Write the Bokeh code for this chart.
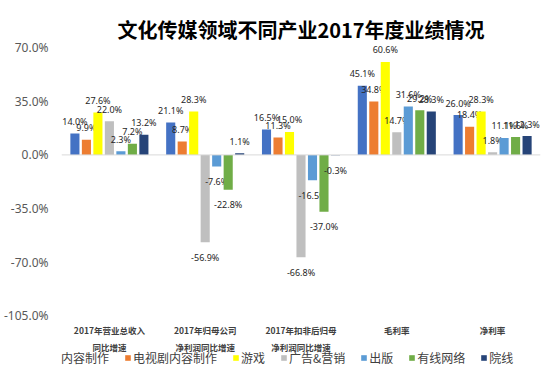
from bokeh.plotting import figure
from bokeh.models import (ColumnDataSource, FixedTicker, Span, Legend,
                          LegendItem, PrintfTickFormatter, Range1d)
from bokeh.transform import dodge
from bokeh.core.properties import value
from bokeh.embed import file_html
from bokeh.resources import INLINE

# ---------------- data ----------------
group_line1 = ["2017年营业总收入", "2017年归母公司", "2017年扣非后归母", "毛利率", "净利率"]
group_line2 = ["同比增速", "净利润同比增速", "净利润同比增速", "", ""]
series_names = ["电影内容制作", "电视剧内容制作", "游戏", "广告&营销", "出版", "有线网络", "院线"]
colors = ["#4472C4", "#ED7D31", "#FFFF00", "#BFBFBF", "#5B9BD5", "#70AD47", "#264478"]

film = [14.0, 21.1, 16.5, 45.1, 26.0]
tv = [9.9, 8.7, 11.3, 34.8, 18.4]
game = [27.6, 28.3, 15.0, 60.6, 28.3]
advert = [22.0, -56.9, -66.8, 14.7, 1.8]
publish = [2.3, -7.6, -16.5, 31.6, 11.1]
cable = [7.2, -22.8, -37.0, 29.2, 11.6]
cinema = [13.2, 1.1, -0.3, 28.3, 12.3]
series_values = [film, tv, game, advert, publish, cable, cinema]

y_ticks = [-105, -70, -35, 0, 35, 70]
title_text = "文化传媒领域不同产业2017年度业绩情况"

# ---------------- figure ----------------
x_pos = list(range(len(group_line1)))
axis_bottom = y_ticks[0]

p = figure(frame_width=479, frame_height=322, output_backend="svg", toolbar_location=None,
           x_range=Range1d(-0.5, len(group_line1) - 0.5), y_range=Range1d(-138, 72),
           min_border_left=58, min_border_right=3, min_border_top=44, min_border_bottom=0)
p.outline_line_color = None
p.xgrid.visible = False
p.ygrid.visible = False
p.xaxis.visible = False
p.background_fill_color = "white"
p.border_fill_color = "white"

p.title.text = title_text
p.title.align = "center"
p.title.text_font = "Noto Sans CJK SC"
p.title.text_font_size = "20px"
p.title.text_font_style = "bold"
p.title.text_color = "#000000"
p.title.offset = 12
p.title.standoff = 2

# y axis
p.yaxis.ticker = FixedTicker(ticks=y_ticks)
p.yaxis.formatter = PrintfTickFormatter(format="%.1f%%")
p.yaxis.axis_line_color = None
p.yaxis.major_tick_line_color = None
p.yaxis.minor_tick_line_color = None
p.yaxis.major_tick_out = 0
p.yaxis.major_tick_in = 0
p.yaxis.major_label_standoff = 13
p.yaxis.major_label_text_font = "Noto Sans"
p.yaxis.major_label_text_font_size = "12px"
p.yaxis.major_label_text_color = "#595959"

# category labels (two lines) under the lowest tick
cat_src = ColumnDataSource(dict(x=x_pos, y=[axis_bottom] * len(x_pos),
                                l1=group_line1, l2=group_line2))
for col, yoff in (("l1", 14), ("l2", 31)):
    p.text(x="x", y="y", text=col, source=cat_src, y_offset=yoff,
           text_align="center", text_baseline="middle",
           text_font=value("Noto Sans CJK SC"), text_font_size="8.5px",
           text_font_style="bold", text_color="#404040")

# zero line
p.add_layout(Span(location=0, dimension="width", line_color="#D9D9D9", line_width=1))

# bars
n = len(series_names)
slot = 0.12
bar_w = 0.095
items = []
for i, (name, vals, col) in enumerate(zip(series_names, series_values, colors)):
    off = (i - (n - 1) / 2) * slot
    src = ColumnDataSource(dict(x=x_pos, y=vals))
    r = p.vbar(x=dodge("x", off, range=p.x_range), top="y", bottom=0, width=bar_w,
               fill_color=col, line_color=None, source=src)
    items.append(LegendItem(label=name, renderers=[r]))

    pos = [(x, v) for x, v in zip(x_pos, vals) if v >= 0]
    neg = [(x, v) for x, v in zip(x_pos, vals) if v < 0]
    for subset, yoff in ((pos, -12), (neg, 15)):
        if not subset:
            continue
        s = ColumnDataSource(dict(x=[a for a, _ in subset], y=[b for _, b in subset],
                                  t=[f"{b:.1f}%" for _, b in subset]))
        p.text(x=dodge("x", off, range=p.x_range), y="y", text="t", source=s,
               text_align="center", text_baseline="middle", y_offset=yoff,
               text_font=value("Noto Sans"), text_font_size="9px", text_color="#262626")

legend = Legend(items=items, orientation="horizontal", location=(-33, 0),
                label_text_font="Noto Sans CJK SC", label_text_font_size="12px",
                label_text_color="#404040", glyph_width=7, glyph_height=7,
                label_standoff=2, spacing=15, padding=1, margin=0,
                label_height=12, border_line_color=None, background_fill_alpha=0)
p.add_layout(legend, "center")

open("out.html", "w").write(file_html(p, INLINE))
